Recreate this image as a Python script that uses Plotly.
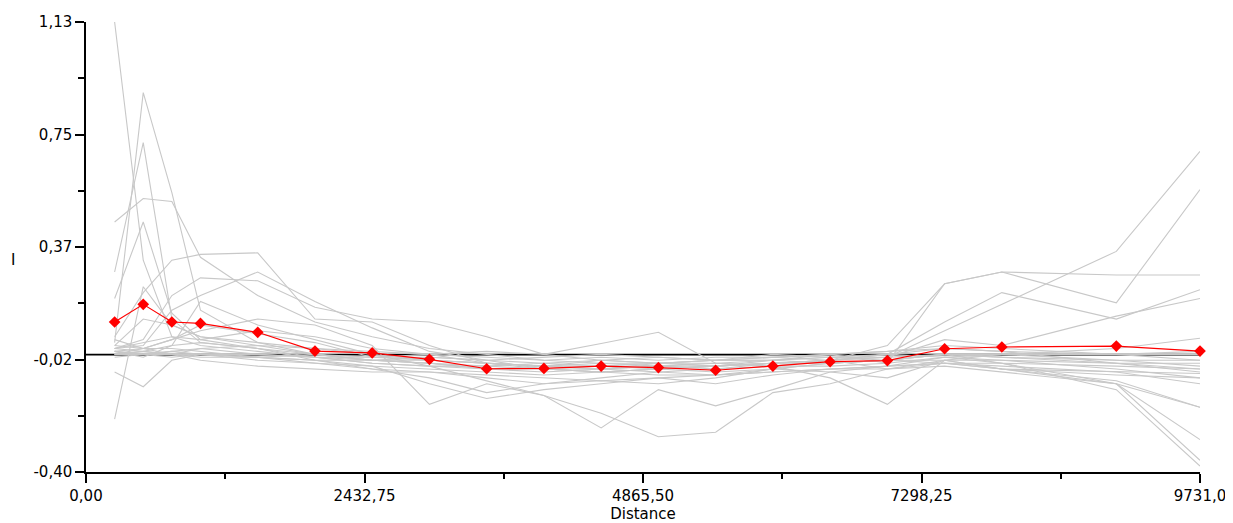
import plotly.graph_objects as go

distance = [250, 500, 750, 1000, 1500, 2000, 2500, 3000, 3500, 4000,
            4500, 5000, 5500, 6000, 6500, 7000, 7500, 8000, 9000, 9731]

mean_I = [0.11, 0.17, 0.11, 0.105, 0.075, 0.011, 0.005, -0.017, -0.049, -0.048,
          -0.04, -0.045, -0.054, -0.04, -0.025, -0.021, 0.019, 0.025, 0.028, 0.011]

expected_I = -0.001

g01 = [1.13, 0.32, 0.06, 0.03, 0.01, -0.01, -0.02, -0.03, -0.04, -0.03, -0.04, -0.05, -0.04, -0.03, -0.03, -0.02, 0.00, -0.01, -0.03, -0.05]
g02 = [0.04, 0.89, 0.55, 0.15, 0.04, 0.00, -0.02, -0.03, -0.05, -0.06, -0.05, -0.04, -0.05, -0.04, -0.04, -0.03, -0.01, -0.02, -0.05, -0.08]
g03 = [0.28, 0.72, 0.12, 0.04, 0.02, -0.01, -0.03, -0.04, -0.05, -0.05, -0.06, -0.05, -0.06, -0.05, -0.03, -0.02, 0.00, -0.03, -0.10, -0.36]
g04 = [0.45, 0.53, 0.52, 0.33, 0.20, 0.11, 0.06, 0.02, 0.00, -0.02, -0.03, -0.03, -0.02, -0.01, 0.00, 0.01, 0.03, 0.02, 0.00, -0.02]
g05 = [0.19, 0.45, 0.14, 0.05, 0.02, -0.02, -0.05, -0.06, -0.08, -0.10, -0.08, -0.06, -0.07, -0.05, -0.06, -0.08, -0.02, -0.05, -0.10, -0.18]
g06 = [0.06, 0.21, 0.32, 0.34, 0.345, 0.12, 0.11, 0.03, -0.03, -0.05, -0.06, -0.05, -0.04, -0.03, -0.02, 0.00, 0.02, 0.01, -0.03, -0.06]
g07 = [-0.22, 0.23, 0.10, 0.06, 0.03, 0.00, -0.02, -0.03, -0.05, -0.04, -0.05, -0.03, -0.02, -0.02, -0.03, -0.02, 0.00, 0.00, -0.02, -0.04]
g08 = [-0.06, -0.11, -0.02, 0.00, -0.01, -0.02, -0.04, -0.10, -0.15, -0.12, -0.10, -0.08, -0.10, -0.07, -0.05, -0.05, -0.02, -0.05, -0.07, -0.08]
g09 = [0.02, 0.05, 0.20, 0.26, 0.25, 0.16, 0.12, 0.11, 0.06, 0.00, -0.02, -0.03, -0.04, -0.02, 0.00, -0.03, 0.24, 0.28, 0.175, 0.56]
g10 = [0.03, 0.02, 0.05, 0.08, 0.12, 0.10, 0.03, -0.17, -0.10, -0.14, -0.25, -0.12, -0.175, -0.12, -0.06, -0.04, -0.01, -0.03, -0.12, -0.38]
g11 = [0.01, -0.01, 0.03, 0.18, 0.10, 0.05, 0.00, -0.04, -0.09, -0.14, -0.20, -0.28, -0.265, -0.13, -0.10, -0.05, -0.04, -0.06, -0.10, -0.29]
g12 = [0.02, 0.01, 0.00, 0.02, 0.03, 0.02, 0.01, 0.00, 0.01, 0.00, 0.037, 0.075, -0.03, -0.04, -0.08, -0.17, -0.02, 0.00, 0.02, 0.055]
g13 = [0.00, 0.02, 0.05, 0.10, 0.07, 0.04, -0.01, -0.02, -0.03, -0.04, -0.05, -0.04, -0.03, -0.04, -0.02, -0.01, 0.08, 0.17, 0.35, 0.69]
g14 = [0.01, 0.00, 0.01, 0.02, 0.00, -0.01, -0.03, -0.04, -0.04, -0.05, -0.05, -0.06, -0.05, -0.03, -0.02, 0.03, 0.24, 0.28, 0.27, 0.27]
g15 = [0.03, 0.12, 0.10, 0.06, 0.04, 0.02, 0.00, -0.02, -0.03, -0.04, -0.03, -0.04, -0.04, -0.03, -0.02, 0.00, 0.11, 0.21, 0.12, 0.22]
g16 = [0.00, 0.01, 0.03, 0.04, 0.02, 0.00, -0.02, -0.02, -0.03, -0.04, -0.04, -0.03, -0.03, -0.02, -0.01, -0.01, 0.05, 0.03, 0.13, 0.19]
g17 = [0.02, 0.03, 0.15, 0.20, 0.28, 0.18, 0.09, 0.01, -0.02, -0.05, -0.06, -0.05, -0.04, -0.03, -0.02, -0.05, -0.03, -0.03, -0.04, -0.05]
g18 = [0.01, 0.02, 0.02, 0.01, -0.01, -0.03, -0.05, -0.08, -0.13, -0.10, -0.09, -0.10, -0.08, -0.05, -0.03, -0.02, -0.03, -0.05, -0.06, -0.065]
g19 = [0.00, 0.01, 0.00, 0.00, -0.02, -0.03, -0.04, -0.05, -0.06, -0.07, -0.06, -0.07, -0.07, -0.06, -0.05, -0.04, -0.03, -0.05, -0.09, -0.18]
g20 = [0.02, 0.04, 0.06, 0.05, 0.08, 0.06, 0.02, 0.00, -0.03, -0.04, -0.02, -0.03, -0.02, -0.01, 0.00, 0.01, 0.02, 0.01, 0.00, 0.01]
g21 = [0.05, 0.02, 0.00, -0.02, -0.04, -0.05, -0.06, -0.06, -0.07, -0.08, -0.09, -0.08, -0.07, -0.06, -0.05, -0.04, -0.03, -0.04, -0.06, -0.10]
g22 = [0.00, 0.00, -0.01, 0.00, 0.00, -0.01, -0.01, 0.00, -0.01, -0.02, -0.01, -0.02, -0.01, -0.01, -0.02, -0.01, 0.00, -0.01, -0.02, -0.02]
g23 = [0.01, 0.00, 0.00, -0.01, -0.01, 0.00, -0.01, -0.01, -0.02, -0.01, 0.00, -0.01, -0.02, 0.00, -0.01, 0.00, -0.01, 0.00, 0.00, 0.00]
g24 = [-0.01, 0.00, 0.01, 0.00, -0.01, -0.02, -0.02, -0.01, -0.02, -0.03, -0.02, -0.01, -0.02, -0.02, -0.01, -0.02, -0.02, -0.02, -0.03, -0.03]

gray_series = [g01, g02, g03, g04, g05, g06, g07, g08, g09, g10, g11, g12,
               g13, g14, g15, g16, g17, g18, g19, g20, g21, g22, g23, g24]

x_tickvals = [0, 2432.75, 4865.5, 7298.25, 9731]
x_ticktext = ["0,00", "2432,75", "4865,50", "7298,25", "9731,0"]
x_minor = [1216.375, 3649.125, 6081.875, 8514.625]
y_tickvals = [-0.40, -0.0175, 0.365, 0.7475, 1.13]
y_ticktext = ["-0,40", "-0,02", "0,37", "0,75", "1,13"]
y_minor = [-0.20875, 0.17375, 0.55625, 0.93875]

fig = go.Figure()

fig.add_trace(go.Scatter(x=[0, 9731], y=[expected_I, expected_I], mode="lines",
                         line=dict(color="black", width=1.6), showlegend=False,
                         hoverinfo="skip"))

for s in gray_series:
    fig.add_trace(go.Scatter(x=distance, y=s, mode="lines",
                             line=dict(color="#c8c8c8", width=1.1),
                             showlegend=False))

fig.add_trace(go.Scatter(x=distance, y=mean_I, mode="lines+markers",
                         line=dict(color="#ff0000", width=1.2),
                         marker=dict(symbol="diamond", size=9, color="#ff0000"),
                         cliponaxis=False, showlegend=False))

axis_font = dict(family="DejaVu Sans, sans-serif", size=15, color="black")

# page body has an 8px margin; figure placed at (8, 8)
W, H = 1225, 515
L, T = 78, 14
R = W - 1192
B = H - 464

fig.add_annotation(text="I", showarrow=False, font=axis_font,
                   xref="paper", yref="paper",
                   x=(13 - 86) / (1200 - 86), y=(472 - 260) / (472 - 22),
                   xanchor="center", yanchor="middle")

fig.update_layout(
    width=W, height=H,
    margin=dict(l=L, r=R, t=T, b=B, autoexpand=False),
    paper_bgcolor="white", plot_bgcolor="white",
    font=axis_font,
    xaxis=dict(range=[0, 9731], showgrid=False, zeroline=False, automargin=False,
               showline=True, linecolor="black", linewidth=1.5,
               ticks="outside", ticklen=9, tickcolor="black", tickwidth=1.5,
               tickmode="array", tickvals=x_tickvals, ticktext=x_ticktext,
               minor=dict(tickmode="array", tickvals=x_minor, ticks="outside",
                          ticklen=5, tickcolor="black", tickwidth=1.5),
               tickfont=axis_font,
               title=dict(text="Distance", font=axis_font, standoff=0)),
    yaxis=dict(range=[-0.40, 1.13], showgrid=False, zeroline=False, automargin=False,
               showline=True, linecolor="black", linewidth=1.5,
               ticks="outside", ticklen=9, tickcolor="black", tickwidth=1.5,
               tickmode="array", tickvals=y_tickvals, ticktext=y_ticktext,
               minor=dict(tickmode="array", tickvals=y_minor, ticks="outside",
                          ticklen=6, tickcolor="black", tickwidth=1.5),
               tickfont=axis_font),
)

fig.write_html("out.html")
